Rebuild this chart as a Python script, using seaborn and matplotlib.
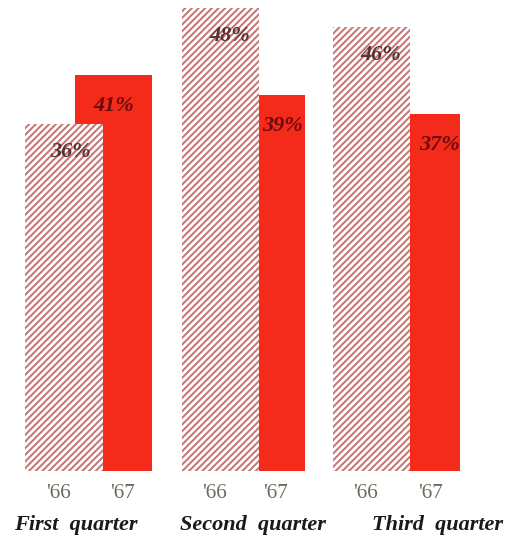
import matplotlib
matplotlib.use("Agg")
import matplotlib.pyplot as plt
import pandas as pd
import seaborn as sns

# values
quarters = ["First  quarter", "Second  quarter", "Third  quarter"]
share_66 = [36, 48, 46]
share_67 = [41, 39, 37]
years = ["'66", "'67"]

# bar centres in pixel-like x units (axes spans 0..514)
pos_66 = [64, 220, 371]
pos_67 = [113.5, 266.5, 421.5]
group_x = [76, 253, 437]
# label nudges inside the bars
lab_dx_66 = [7, 10, 10]
lab_dx_67 = [0, 16, 18]

RED = "#f42a1b"
HATCH = "#c87472"
DPI = 80

sns.set_theme(style="white")
plt.rcParams["font.family"] = ["Liberation Serif", "DejaVu Serif"]
plt.rcParams["hatch.linewidth"] = 1.8

df66 = pd.DataFrame({"pos": pos_66, "value": share_66})
df67 = pd.DataFrame({"pos": pos_67, "value": share_67})

fig = plt.figure(figsize=(514 / DPI, 541 / DPI), dpi=DPI)
ax = fig.add_axes([0, 70 / 541, 1, 471 / 541])

# '67 solid red bars first, hatched '66 bars drawn over them
sns.barplot(data=df67, x="pos", y="value", native_scale=True, width=77 / 153,
            color=RED, saturation=1, errorbar=None, linewidth=0, ax=ax)
sns.barplot(data=df66, x="pos", y="value", native_scale=True, width=77 / 151,
            color="white", saturation=1, errorbar=None, linewidth=0,
            edgecolor=HATCH, hatch="////", ax=ax)
for p in ax.patches[3:]:
    p.set_zorder(3)
for p in ax.patches[:3]:
    p.set_zorder(2)

ax.set_xlim(0, 514)
ax.set_ylim(0, 471 / 9.65)
sns.despine(ax=ax, left=True, bottom=True)
ax.set_xlabel("")
ax.set_ylabel("")
ax.set_yticks([])

# year tick labels
ax.set_xticks([p - 6 for p in pos_66] + [p + 9 for p in pos_67])
ax.set_xticklabels([years[0]] * 3 + [years[1]] * 3, fontsize=19, color="#6d6a5c")
ax.tick_params(axis="x", length=0, pad=12)

# percentage labels inside the bars
for x, dx, v in zip(pos_66, lab_dx_66, share_66):
    ax.text(x + dx, v - 2.9, f"{v}%", ha="center", va="center", fontsize=20,
            fontweight="bold", style="italic", color="#5a3232", zorder=5)
for x, dx, v in zip(pos_67, lab_dx_67, share_67):
    ax.text(x + dx, v - 3.2, f"{v}%", ha="center", va="center", fontsize=20,
            fontweight="bold", style="italic", color="#6a0c0c", zorder=5)

# quarter labels
for x, q in zip(group_x, quarters):
    ax.text(x, -5.6, q, ha="center", va="center", fontsize=20,
            fontweight="bold", style="italic", color="#1a1a1a", clip_on=False)

fig.savefig("out.png", dpi=DPI)
